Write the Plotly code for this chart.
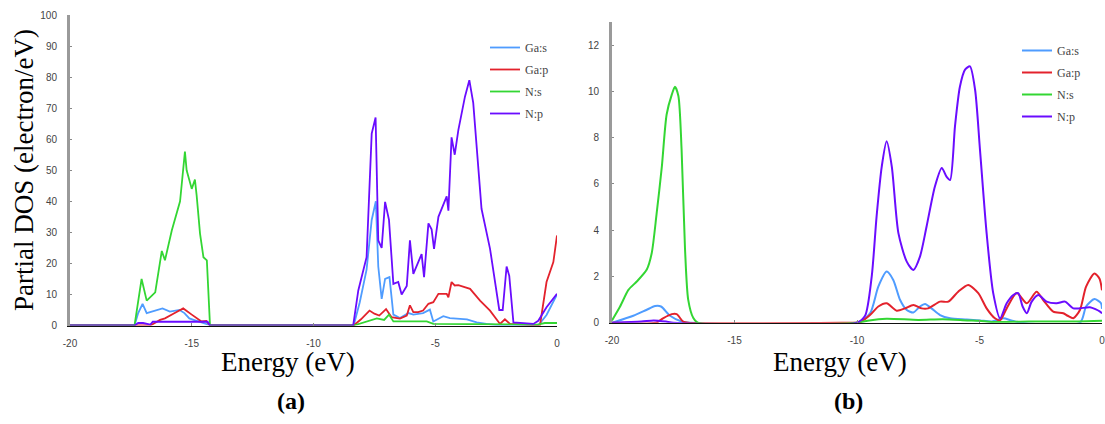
import plotly.graph_objects as go

W, H = 1105, 424

# ---------------- Panel (a) data ----------------
a_gas_E = [-20, -17.35, -17.2, -17.02, -16.85, -16.6, -16.2, -15.9, -15.5, -15.3, -15.1, -14.8, -14.5, -14.3, -14.2,
           -8.35, -8.1, -7.82, -7.61, -7.44, -7.34, -7.2, -7.06, -6.88, -6.72, -6.45, -6.1, -5.9, -5.5, -5.22,
           -5.08, -4.67, -4.4, -3.7, -3.3, -2.9, -2.35, -0.77, -0.43, 0]
a_gas_D = [0, 0, 4, 7, 4, 4.5, 5.5, 4.5, 5, 4, 2.3, 1.5, 0.7, 0.3, 0,
           0, 7.5, 18, 34, 40, 19, 8.6, 15, 15.6, 3.5, 2.4, 4, 3.5, 4, 5.1,
           1.3, 3, 2.4, 2, 1, 0.5, 0, 0, 3.4, 10]

a_gap_E = [-20, -16.7, -16.3, -16.1, -15.7, -15.35, -15.0, -14.6, -14.4, -14.25,
           -8.35, -8.05, -7.7, -7.5, -7.3, -7.02, -6.8, -6.45, -6.17, -6.04, -5.9, -5.7, -5.5, -5.28, -5.08,
           -4.87, -4.53, -4.46, -4.33, -4.2, -4.05, -3.57, -3.16, -2.75, -2.34, -2.14, -1.93, -0.7, -0.43, -0.15, 0]
a_gap_D = [0, 0, 1.8, 2.3, 4, 5.5, 3.5, 1.3, 1.5, 0,
           0, 2, 4.8, 3.8, 3.2, 5.3, 2.7, 2.2, 3.2, 6.5, 4.3, 4.3, 4.8, 7, 7.5,
           10.2, 10.2, 9.1, 14, 12.9, 13, 11.8, 8, 4.8, 0.5, 2, 0.5, 0, 14, 20.4, 29]

a_ns_E = [-20, -17.35, -17.06, -16.85, -16.5, -16.23, -16.1, -15.82, -15.48, -15.28, -15.21, -15.0, -14.87,
          -14.8, -14.66, -14.52, -14.38, -14.25, -8.35, -7.82, -7.4, -7.1, -6.9, -6.72, -6.04, -5.35, -5.08,
          -3, -0.8, -0.5, 0]
a_ns_D = [0, 0, 15, 8, 10.7, 24, 21, 30.6, 40, 56, 50, 44, 47,
          42, 29.6, 22, 21, 0, 0, 1.3, 2.3, 1.8, 3.5, 1.3, 1.3, 1.3, 0.5,
          0.5, 0.3, 0.8, 0.8]

a_np_E = [-20, -17.35, -17.2, -17.0, -16.7, -16.6, -14.35, -14.25, -8.37, -8.16, -7.82, -7.61, -7.45, -7.34,
          -7.2, -7.06, -6.9, -6.72, -6.52, -6.38, -6.17, -6.04, -5.9, -5.56, -5.46, -5.28, -5.15, -5.05, -4.87,
          -4.53, -4.46, -4.33, -4.2, -4.05, -3.78, -3.6, -3.44, -3.1, -2.75, -2.55, -2.37, -2.23, -2.07, -1.96,
          -1.79, -0.97, -0.77, -0.43, 0]
a_np_D = [0, 0, 0.8, 0.8, 0.3, 1.2, 1.2, 0, 0, 11.3, 22, 61.8, 67, 27.4,
          25, 39.8, 34, 13.4, 14, 10, 12.7, 27.4, 16.6, 23, 15.6, 32.9, 31, 24.7, 35,
          41.6, 37, 60.6, 55, 63, 73.7, 79, 71.7, 37.6, 24.7, 14, 5, 5, 19, 16,
          1, 0.5, 1.5, 5.9, 10.2]

# ---------------- Panel (b) data ----------------
b_gas_E = [-20, -19.13, -18.6, -18.24, -18.0, -17.63, -17.16, -16.8, -10.0, -9.47, -9.13, -8.79, -8.52, -8.24,
           -7.97, -7.7, -7.43, -7.22, -6.96, -6.61, -6.2, -5.52, -4.98, -4.5, -4.03, -3.7, -3.3, -0.9, -0.65,
           -0.31, -0.04, 0]
b_gas_D = [0, 0.3, 0.55, 0.72, 0.7, 0.3, 0.05, 0, 0, 0.4, 1.56, 2.21, 1.85, 0.98,
           0.55, 0.44, 0.7, 0.81, 0.62, 0.33, 0.19, 0.14, 0.1, 0.05, 0.19, 0.1, 0, 0, 0.7,
           1.02, 0.84, 0.6]

b_gap_E = [-20, -18.2, -17.9, -17.56, -17.36, -17.1, -16.9, -10.0, -9.9, -9.47, -9.13, -8.79, -8.38, -8.04,
           -7.7, -7.36, -7.1, -6.61, -6.27, -5.87, -5.46, -5.05, -4.71, -4.37, -4.16, -3.89, -3.48, -3.07,
           -2.67, -2.4, -1.99, -1.58, -1.4, -1.17, -0.9, -0.65, -0.31, -0.1, 0]
b_gap_D = [0, 0, 0.2, 0.37, 0.37, 0.05, 0, 0, 0, 0.33, 0.7, 0.84, 0.52, 0.62,
           0.77, 0.62, 0.62, 0.91, 0.91, 1.34, 1.63, 1.28, 0.62, 0.19, 0.1, 0.62, 1.28, 0.84,
           1.34, 0.98, 0.48, 0.41, 0.3, 0.19, 0.55, 1.56, 2.13, 1.9, 1.4]

b_ns_E = [-20, -19.67, -19.33, -18.99, -18.58, -18.38, -18.18, -17.97, -17.77, -17.56, -17.43, -17.29, -17.16,
          -17.02, -16.89, -16.68, -16.5, -10.0, -9.5, -8.8, -7.5, -6.5, -5.5, -5.0, -4.5, -3.0, -1.0, 0]
b_ns_D = [0.1, 0.7, 1.42, 1.78, 2.3, 3.0, 4.7, 6.7, 9.0, 9.86, 10.2, 9.8, 7.5,
          3.2, 1.0, 0.2, 0, 0, 0.1, 0.17, 0.12, 0.15, 0.1, 0.08, 0.03, 0.05, 0.05, 0.08]

b_np_E = [-20, -18.8, -18.3, -17.8, -17.5, -10.01, -9.67, -9.4, -9.2, -8.99, -8.79, -8.58, -8.31, -7.97, -7.7,
          -7.43, -7.16, -6.82, -6.54, -6.34, -6.2, -6.0, -5.8, -5.59, -5.39, -5.18, -4.98, -4.71, -4.44, -4.16,
          -3.89, -3.62, -3.42, -3.24, -3.07, -2.87, -2.6, -2.26, -1.85, -1.51, -1.17, -0.9, -0.49, -0.08, 0]
b_np_D = [0, 0.05, 0.1, 0.05, 0, 0, 0.3, 1.99, 4.6, 6.75, 7.84, 6.75, 3.87, 2.64, 2.28,
          2.86, 4.16, 5.89, 6.69, 6.3, 6.17, 8.5, 10.2, 10.94, 11.08, 10.07, 7.47, 3.87, 1.28, 0.19,
          0.84, 1.2, 1.28, 0.7, 0.41, 0.91, 1.2, 0.91, 0.84, 0.91, 0.62, 0.62, 0.67, 0.48, 0.4]

series_names = ["Ga:s", "Ga:p", "N:s", "N:p"]
series_colors = ["#4f9cff", "#e3222c", "#33d633", "#6a0cff"]
x_ticks = [-20, -15, -10, -5, 0]
x_tick_text = ["-20", "-15", "-10", "-5", "0"]
ya_ticks = list(range(0, 101, 10))
yb_ticks = [0, 2, 4, 6, 8, 10, 12]

panel_a = [(a_gas_E, a_gas_D), (a_gap_E, a_gap_D), (a_ns_E, a_ns_D), (a_np_E, a_np_D)]
panel_b = [(b_gas_E, b_gas_D), (b_gap_E, b_gap_D), (b_ns_E, b_ns_D), (b_np_E, b_np_D)]

fig = go.Figure()
for i, (e, d) in enumerate(panel_a):
    fig.add_trace(go.Scatter(x=e, y=d, mode="lines", name=series_names[i],
                             line=dict(color=series_colors[i], width=1.8),
                             xaxis="x", yaxis="y", legend="legend", legendgroup="a%d" % i))
for i, (e, d) in enumerate(panel_b):
    fig.add_trace(go.Scatter(x=e, y=d, mode="lines", name=series_names[i],
                             line=dict(color=series_colors[i], width=2, shape="spline", smoothing=0.7),
                             xaxis="x2", yaxis="y2", legend="legend2", legendgroup="b%d" % i))


def px(x):
    return x / W


def py(y):
    return 1 - y / H


tick_font = dict(family="Liberation Sans, Arial, sans-serif", size=10, color="#444")
xa_common = dict(range=[-20, 0], tickvals=x_ticks, ticktext=x_tick_text, ticks="inside", ticklen=3,
                 tickcolor="#888", showline=True, linecolor="#111", linewidth=1.5, showgrid=False,
                 zeroline=False, tickfont=tick_font, ticklabelstandoff=8, ticklabeloverflow="allow",
                 automargin=False, fixedrange=True)
ya_common = dict(ticks="inside", ticklen=2, tickcolor="#888", showline=True, linecolor="#9a9a9a",
                 linewidth=3, showgrid=False, zeroline=False, tickfont=tick_font, ticklabelstandoff=8,
                 ticklabeloverflow="allow", automargin=False, fixedrange=True)

legend_font = dict(family="Liberation Serif, Times New Roman, serif", size=12, color="#444")

fig.update_layout(
    width=W, height=H,
    margin=dict(l=0, r=0, t=0, b=0),
    paper_bgcolor="white", plot_bgcolor="white",
    xaxis=dict(domain=[px(70), px(557)], anchor="y", **xa_common),
    yaxis=dict(domain=[py(325.5), py(15)], anchor="x", range=[0, 100], tickvals=ya_ticks, **ya_common),
    xaxis2=dict(domain=[px(612), px(1102)], anchor="y2", **xa_common),
    yaxis2=dict(domain=[py(322.7), py(22)], anchor="x2", range=[0, 13], tickvals=yb_ticks, **ya_common),
    legend=dict(x=px(485), y=py(33), xanchor="left", yanchor="top", font=legend_font,
                bgcolor="rgba(0,0,0,0)", tracegroupgap=3, itemclick=False),
    legend2=dict(x=px(1017), y=py(36), xanchor="left", yanchor="top", font=legend_font,
                 bgcolor="rgba(0,0,0,0)", tracegroupgap=3, itemclick=False),
    showlegend=True,
)

title_font = dict(family="Liberation Serif, Times New Roman, serif", size=27, color="black")
label_font = dict(family="Liberation Serif, Times New Roman, serif", size=24, color="black")

fig.add_annotation(text="Energy (eV)", x=px(288), y=py(362), xref="paper", yref="paper",
                   showarrow=False, font=title_font, xanchor="center", yanchor="middle")
fig.add_annotation(text="Energy (eV)", x=px(840), y=py(362), xref="paper", yref="paper",
                   showarrow=False, font=title_font, xanchor="center", yanchor="middle")
fig.add_annotation(text="<b>(a)</b>", x=px(291), y=py(401), xref="paper", yref="paper",
                   showarrow=False, font=label_font, xanchor="center", yanchor="middle")
fig.add_annotation(text="<b>(b)</b>", x=px(848), y=py(401), xref="paper", yref="paper",
                   showarrow=False, font=label_font, xanchor="center", yanchor="middle")
fig.add_annotation(text="Partial DOS (electron/eV)", x=px(24), y=py(170), xref="paper", yref="paper",
                   showarrow=False, font=title_font, textangle=-90, xanchor="center", yanchor="middle")

fig.write_html("out.html", config={"displayModeBar": False, "staticPlot": True},
               post_script="document.body.style.margin='0';document.body.style.overflow='hidden';")
